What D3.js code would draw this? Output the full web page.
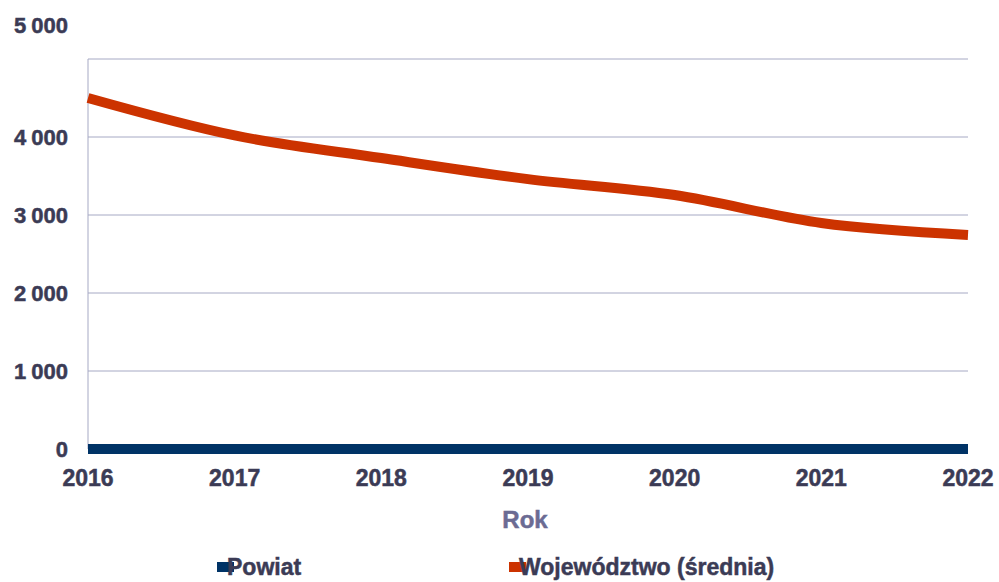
<!DOCTYPE html>
<html>
<head>
<meta charset="utf-8">
<script src="https://cdn.jsdelivr.net/npm/d3@7"></script>
<style>
  body { margin: 0; background: #fff; }
  text { font-family: "Liberation Sans", Arial, sans-serif; font-weight: bold; stroke-width: 0.5px; }
</style>
</head>
<body>
<div id="chart"></div>
<script>
const years = [2016, 2017, 2018, 2019, 2020, 2021, 2022];
const powiat = [0, 0, 0, 0, 0, 0, 0];
const wojewodztwo = [4500, 4020, 3730, 3460, 3256, 2897, 2744];
const yTicks = [0, 1000, 2000, 3000, 4000, 5000];
const yTickLabels = ['0', '1 000', '2 000', '3 000', '4 000', '5 000'];
const seriesNames = ['Powiat', 'Województwo (średnia)'];
const seriesColors = ['#003366', '#cc3300'];

const width = 999, height = 582;
const plotLeft = 88, plotRight = 968, plotTop = 59, plotBottom = 449;
const textColor = '#3b3b55';
const gridColor = '#a6a9c4';

const svg = d3.select('#chart').append('svg')
    .attr('width', width)
    .attr('height', height);

const x = d3.scalePoint().domain(years).range([plotLeft, plotRight]);
const y = d3.scaleLinear().domain([0, 5000]).range([plotBottom, plotTop]);

// gridlines
svg.append('g')
    .selectAll('line')
    .data(yTicks.filter(d => d > 0))
    .join('line')
    .attr('x1', plotLeft)
    .attr('x2', plotRight)
    .attr('y1', d => y(d))
    .attr('y2', d => y(d))
    .style('stroke', gridColor)
    .style('stroke-width', 1);

// left axis line
svg.append('line')
    .attr('x1', plotLeft).attr('x2', plotLeft)
    .attr('y1', y(5000)).attr('y2', y(0))
    .style('stroke', gridColor)
    .style('stroke-width', 1);

// y labels (top one sits above the plot like the original)
svg.append('g')
    .selectAll('text')
    .data(yTicks)
    .join('text')
    .attr('x', 68)
    .attr('y', d => d === 5000 ? 25 : y(d))
    .attr('dy', '0.35em')
    .attr('text-anchor', 'end')
    .style('font-size', '22px')
    .style('word-spacing', '-1px')
    .style('fill', textColor)
    .style('stroke', textColor)
    .text((d, i) => yTickLabels[i]);

// x labels
svg.append('g')
    .selectAll('text')
    .data(years)
    .join('text')
    .attr('x', d => x(d))
    .attr('y', 478)
    .attr('dy', '0.35em')
    .attr('text-anchor', 'middle')
    .style('font-size', '23px')
    .style('fill', textColor)
    .style('stroke', textColor)
    .text(d => d);

svg.append('text')
    .attr('x', 525)
    .attr('y', 520)
    .attr('dy', '0.35em')
    .attr('text-anchor', 'middle')
    .style('font-size', '24px')
    .style('fill', '#6b6b93')
    .style('stroke', '#6b6b93')
    .text('Rok');

const line = d3.line()
    .x((d, i) => x(years[i]))
    .y(d => y(d))
    .curve(d3.curveMonotoneX);

[powiat, wojewodztwo].forEach((vals, i) => {
    svg.append('path')
        .datum(vals)
        .attr('d', line)
        .style('fill', 'none')
        .style('stroke', seriesColors[i])
        .style('stroke-width', 10);
});

// legend
const legendX = [217, 509];
const legend = svg.append('g')
    .selectAll('g')
    .data(seriesNames)
    .join('g')
    .attr('transform', (d, i) => `translate(${legendX[i]}, 567)`);
legend.append('rect')
    .attr('x', 0).attr('y', -5)
    .attr('width', 17).attr('height', 10)
    .style('fill', (d, i) => seriesColors[i]);
legend.append('text')
    .attr('x', 10)
    .attr('dy', '0.35em')
    .style('font-size', '23px')
    .style('fill', textColor)
    .style('stroke', textColor)
    .text(d => d);
</script>
</body>
</html>
